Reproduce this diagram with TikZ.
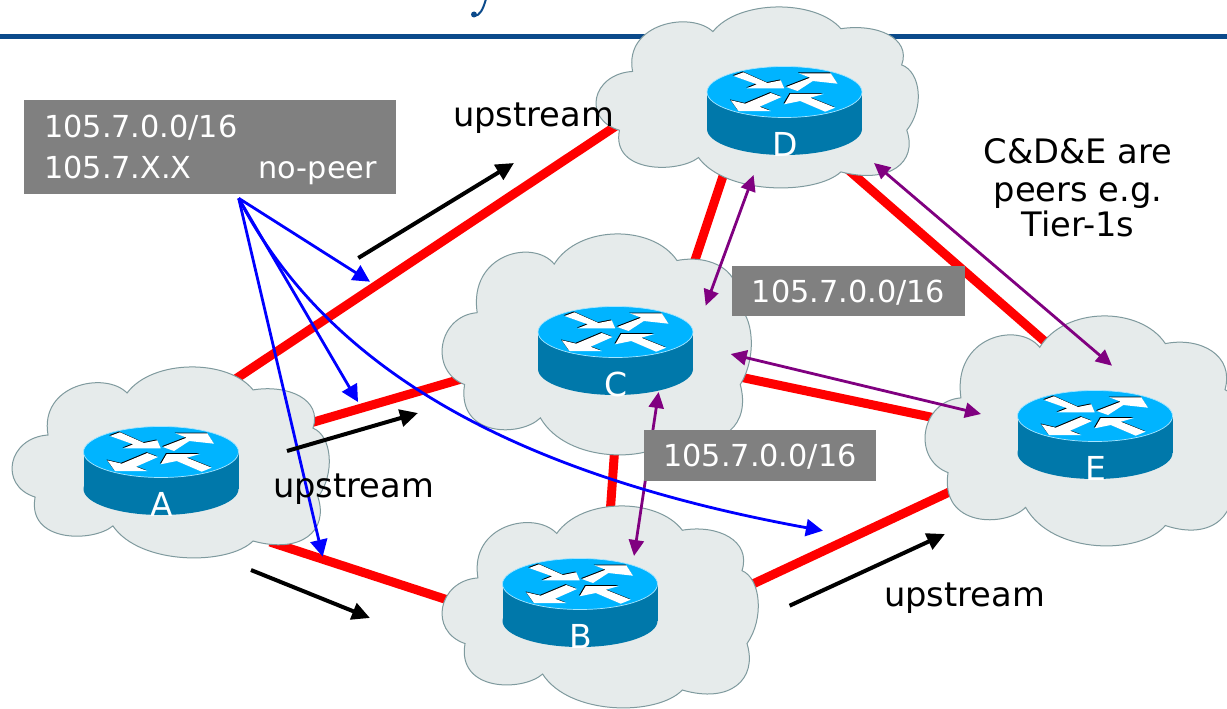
\documentclass[tikz,border=0pt]{standalone}
\usepackage{fontspec}
\setmainfont{DejaVu Sans}
\usetikzlibrary{arrows.meta}
\definecolor{cloudfill}{HTML}{E6EBEB}
\definecolor{cloudline}{HTML}{7F9A9E}
\definecolor{routertop}{HTML}{00B4FF}
\definecolor{routerside}{HTML}{0078AA}
\definecolor{headline}{HTML}{0B4A8B}
\definecolor{boxgray}{HTML}{808080}
\definecolor{peerpurple}{HTML}{800080}
\tikzset{
  link/.style={line width=9pt,red},
  flow/.style={line width=4pt,black,-{Triangle[length=18pt,width=17pt]}},
  adv/.style={line width=2.8pt,blue,-{Triangle[length=17pt,width=17pt]}},
  peer/.style={line width=2.8pt,peerpurple,{Triangle[length=16pt,width=15pt]}-{Triangle[length=16pt,width=15pt]}},
  graybox/.style={fill=boxgray,inner sep=0pt,text=white,font=\fontsize{30.3}{30}\selectfont,text height=22pt,text depth=0pt},
  boxtext/.style={inner sep=0pt,text=white,font=\fontsize{30.3}{30}\selectfont},
  bigtext/.style={inner sep=0pt,text=black,font=\fontsize{33.7}{37}\selectfont},
  letter/.style={inner sep=0pt,anchor=base,text=white,font=\fontsize{33}{33}\selectfont},
  cloudedge/.style={fill=cloudfill,draw=cloudline,line width=1pt}
}
% name, x0, y0, width, height
\newcommand{\netcloud}[5]{%
  \begin{scope}[shift={(#2,#3)},x=#4pt,y=-#5pt]
    \draw[cloudedge] (.108,.356)
      .. controls (.08,.09) and (.29,.02) .. (.359,.136)
      .. controls (.44,-.043) and (.68,-.043) .. (.759,.120)
      .. controls (.87,.09) and (.98,.17) .. (.949,.32)
      .. controls (1.01,.36) and (1.02,.56) .. (.965,.681)
      .. controls (1.0,.86) and (.91,.98) .. (.759,.911)
      .. controls (.68,1.04) and (.40,1.04) .. (.314,.832)
      .. controls (.25,.92) and (.04,.92) .. (.067,.681)
      .. controls (-.05,.62) and (-.02,.37) .. cycle;
    \coordinate (#1) at (.5,.5);
  \end{scope}}
\newcommand{\routerarrow}[1]{%
  \fill[black,shift={(-.8,-.8)}] #1 -- cycle;
  \fill[white] #1 -- cycle;}
% letter, cx, cy
\newcommand{\netrouter}[3]{%
  \begin{scope}[shift={(#2,#3)}]
    \fill[routerside] (-77.5,0) rectangle (77.5,37);
    \fill[routerside] (0,37) ellipse [x radius=77.5pt,y radius=26pt];
    \filldraw[fill=routertop,draw=white!65!routertop,line width=.7pt] (0,0) ellipse [x radius=77.5pt,y radius=25.5pt];
    \routerarrow{(-51,-16) -- (-41,-19.7) -- (-17,-9) -- (-3.7,-11.7) -- (-0.3,-3.7) -- (-37.7,-3.7) -- (-27.7,-7.7)}
    \routerarrow{(1.7,-5) -- (25.7,-14.3) -- (14.3,-18.7) -- (46.3,-18.7) -- (53,-8.3) -- (28.3,-11) -- (13,-1)}
    \routerarrow{(-3,5) -- (-13.7,1) -- (-39.3,11.7) -- (-53.7,8.3) -- (-46,19) -- (-13.7,19) -- (-25,14.7)}
    \routerarrow{(-0.3,12.3) -- (5.7,2) -- (39,2) -- (25.7,5.7) -- (50.7,15.7) -- (40.7,19.7) -- (15.7,9)}
    \node[letter] (label#1) at (0.5,64) {#1};
  \end{scope}}
\begin{document}
\begin{tikzpicture}[x=1pt,y=-1pt]
\useasboundingbox (0,0) rectangle (1227,709);
\clip (0,0) rectangle (1227,709);
\fill[white] (0,0) rectangle (1227,709);
% header
\draw[headline,line width=4.3pt] (0,36.5) -- (1227,36.5);
\draw[headline,line width=2pt] (485.7,0) .. controls (483,9) and (480,16) .. (474,16);
\fill[headline] (474,14.5) circle (3pt);
% link ends
\coordinate (Ad) at (225,386); \coordinate (Da) at (625,120);
\coordinate (Ac) at (300,426); \coordinate (Ca) at (475,375);
\coordinate (Ab) at (270,542); \coordinate (Ba) at (460,604);
\coordinate (Dc) at (725,170); \coordinate (Cd) at (690,275);
\coordinate (De) at (840,162.6); \coordinate (Ed) at (1050,346);
\coordinate (Ce) at (735,376); \coordinate (Ec) at (940,419);
\coordinate (Cb) at (615,445); \coordinate (Bc) at (610,515);
\coordinate (Be) at (740,590); \coordinate (Eb) at (960,487);
\draw[link] (Ad) -- (Da);
\draw[link] (Ac) -- (Ca);
\draw[link] (Ab) -- (Ba);
\draw[link] (Dc) -- (Cd);
\draw[link] (De) -- (Ed);
\draw[link] (Ce) -- (Ec);
\draw[link] (Cb) -- (Bc);
\draw[link] (Be) -- (Eb);
% clouds
\netcloud{cA}{14}{367}{315}{191}
\netcloud{cD}{598}{7}{320}{181}
\netcloud{cC}{444}{234}{307}{221}
\netcloud{cB}{444}{506}{314}{202}
\netcloud{cE}{927}{316}{314}{230}
% routers
\netrouter{A}{161}{452}
\netrouter{D}{784.5}{92}
\netrouter{C}{615.5}{332}
\netrouter{B}{580}{584}
\netrouter{E}{1095}{416}
% purple peering arrows
\coordinate (pD1) at (753.6,175); \coordinate (pC1) at (705.7,305.7);
\coordinate (pD2) at (874,163); \coordinate (pE2) at (1112,365.7);
\coordinate (pC3) at (730.7,354); \coordinate (pE3) at (981,414);
\coordinate (pC4) at (658.6,392); \coordinate (pB4) at (634,556);
\draw[peer] (pD1) -- (pC1);
\draw[peer] (pD2) -- (pE2);
\draw[peer] (pC3) -- (pE3);
\draw[peer] (pC4) -- (pB4);
% blue arrows
\coordinate (src) at (238.7,198.3);
\coordinate (b1) at (370,281.7);
\coordinate (b2) at (358,402);
\coordinate (b3) at (322.7,556.7);
\coordinate (b4) at (822.9,530.7);
\draw[adv] (src) -- (b1);
\draw[adv] (src) -- (b2);
\draw[adv] (src) -- (b3);
\draw[adv] (src) .. controls (320,355) and (490,470) .. (b4);
% black arrows
\coordinate (k1s) at (358.3,258); \coordinate (k1e) at (514,163);
\coordinate (k2s) at (287,451); \coordinate (k2e) at (418,413);
\coordinate (k3s) at (251,570); \coordinate (k3e) at (370,618);
\coordinate (k4s) at (789.6,605.7); \coordinate (k4e) at (945,534);
\draw[flow] (k1s) -- (k1e);
\draw[flow] (k2s) -- (k2e);
\draw[flow] (k3s) -- (k3e);
\draw[flow] (k4s) -- (k4e);
% grey boxes
\node[graybox,minimum width=372pt,minimum height=94pt] (box1) at (210,147) {};
\node[boxtext,anchor=base west] (t1) at (44,137) {105.7.0.0/16};
\node[boxtext,anchor=base west] (t2) at (44,178.5) {105.7.X.X};
\node[boxtext,anchor=base east] (t3) at (377,178.5) {no-peer};
\node[graybox,minimum width=233pt,minimum height=50pt] (box2) at (848.5,291) {105.7.0.0/16};
\node[graybox,minimum width=232pt,minimum height=51pt] (box3) at (760,455.5) {105.7.0.0/16};
% texts
\node[bigtext,anchor=base west] (u1) at (453,126) {upstream};
\node[bigtext,anchor=base west] (u2) at (273,497) {upstream};
\node[bigtext,anchor=base west] (u3) at (884,606) {upstream};
\node[bigtext,anchor=base] (pe) at (1078,163.5) {C\&D\&E are};
\node[bigtext,anchor=base] (pf) at (1078,201.5) {peers e.g.};
\node[bigtext,anchor=base] (pg) at (1078,236) {Tier-1s};
\end{tikzpicture}
\end{document}
